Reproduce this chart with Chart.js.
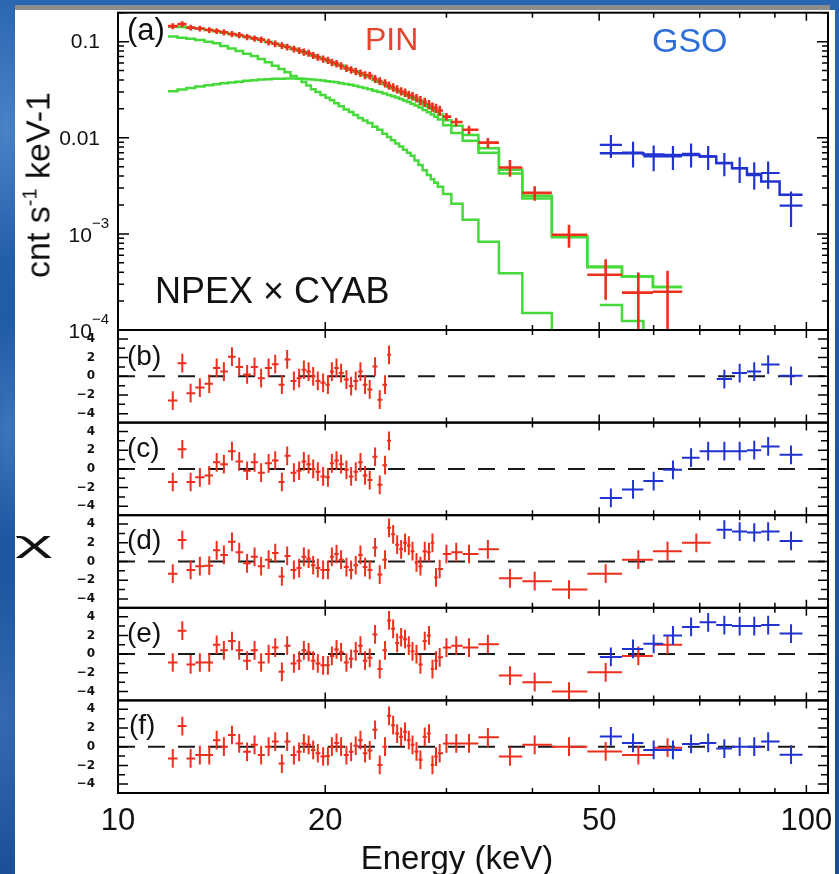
<!DOCTYPE html>
<html>
<head>
<meta charset="utf-8">
<title>PIN / GSO spectrum and residuals</title>
<script src="https://cdn.jsdelivr.net/npm/chart.js@4.4.1/dist/chart.umd.min.js"></script>
<style>
  html, body { margin: 0; padding: 0; }
  body {
    width: 839px; height: 874px; position: relative; overflow: hidden;
    font-family: "Liberation Sans", Arial, sans-serif;
    background:
      radial-gradient(ellipse 40px 130px at 6px 130px, rgba(120,170,230,.45), transparent),
      radial-gradient(ellipse 35px 110px at 8px 430px, rgba(110,160,225,.4), transparent),
      radial-gradient(ellipse 40px 150px at 4px 720px, rgba(100,150,220,.35), transparent),
      linear-gradient(180deg, #2b67b1 0%, #1f59a3 45%, #1b5097 100%);
  }
  #strip { position: absolute; left: 15px; top: 5px; width: 815px; height: 5px; background: #8d8d8d; }
  #sheet { position: absolute; left: 15px; top: 10px; width: 820px; height: 864px; background: #fff; }
  #plots canvas { position: absolute; left: 0; }
  .txt { position: absolute; white-space: nowrap; line-height: 1; z-index: 5; color: #111; }
</style>
</head>
<body>
<div id="strip"></div>
<div id="sheet"></div>
<div id="plots"></div>

<div class="txt" style="left:127px;top:14px;font-size:31px">(a)</div>
<div class="txt" style="left:127px;top:342px;font-size:28px">(b)</div>
<div class="txt" style="left:127px;top:434px;font-size:28px">(c)</div>
<div class="txt" style="left:127px;top:526px;font-size:28px">(d)</div>
<div class="txt" style="left:127px;top:619px;font-size:28px">(e)</div>
<div class="txt" style="left:129px;top:711px;font-size:28px">(f)</div>
<div class="txt" style="left:365px;top:23px;font-size:32px;color:#e5452d">PIN</div>
<div class="txt" style="left:652px;top:23px;font-size:34px;color:#2f6fd8">GSO</div>
<div class="txt" style="left:155px;top:273px;font-size:36px">NPEX × CYAB</div>
<div class="txt" style="left:457px;top:841px;font-size:33px;transform:translateX(-50%)">Energy (keV)</div>
<div class="txt" style="left:37px;top:185px;font-size:34px;transform:translate(-50%,-50%) rotate(-90deg)">cnt s<sup style="font-size:20px;vertical-align:13px">-1</sup> keV-1</div>
<div class="txt" style="left:15px;top:527px;font-size:30px;transform:scaleX(2.4);transform-origin:left top">χ</div>

<script>
// ---------- axes ----------
const xMin = 10, xMax = 107.5;
const xTickVals = [20, 30, 40, 50, 60, 70, 80, 90, 100];
const xMajorVals = [20, 50, 100];
const xLabelVals = [10, 20, 50, 100];
const specMin = 1e-4, specMax = 0.2;
const resMin = -4.95, resMax = 4.95;
const resTickVals = [-4, -3, -2, -1, 0, 1, 2, 3, 4];
const resLabelVals = [-4, -2, 0, 2, 4];
const specLabels = [
  { v: 0.1, t: "0.1" }, { v: 0.01, t: "0.01" },
  { v: 1e-3, exp: "−3" }, { v: 1e-4, exp: "−4" }
];

// ---------- energy bins (keV) ----------
const pinDenseE = [12.01, 12.40, 12.75, 13.15, 13.57, 13.91, 14.25, 14.64, 15.00, 15.40,
  15.79, 16.14, 16.55, 16.92, 17.30, 17.61, 18.01, 18.33, 18.62, 18.92,
  19.21, 19.51, 19.86, 20.18, 20.45, 20.77, 21.09, 21.47, 21.81, 22.15,
  22.50, 22.85, 23.21, 23.63, 24.00, 24.43, 24.76];
const pinHiE = [25.10, 25.44, 25.78, 26.12, 26.45, 26.78, 27.14, 27.50, 27.90, 28.30,
  28.63, 28.97, 29.33, 30.00, 31.00, 32.35, 34.46];
const pinWideE = [37.1, 40.3, 45.2, 51.1, 57.0, 62.85, 69.2];
const gsoE = [52, 56, 60, 64, 68, 72, 76, 80, 84, 88, 95];

// ---------- panel (a): counts spectrum ----------
const pinSpec = [0.145, 0.152, 0.140, 0.137, 0.132, 0.129, 0.125, 0.120, 0.117, 0.112,
  0.108, 0.105, 0.099, 0.095, 0.091, 0.088, 0.084, 0.081, 0.078, 0.076,
  0.072, 0.069, 0.066, 0.064, 0.061, 0.059, 0.056, 0.053, 0.051, 0.049,
  0.047, 0.045, 0.0445, 0.041, 0.039, 0.037, 0.035,
  0.0335, 0.032, 0.0305, 0.0295, 0.028, 0.0272, 0.026, 0.0245, 0.0235, 0.0222,
  0.021, 0.0203, 0.0192, 0.0166, 0.0146, 0.0121, 0.0089,
  0.0049, 0.00267, 0.00098, 0.000376, 0.000245, 0.00025];
const pinErr = [0.07, 0.07, 0.07, 0.07, 0.07, 0.07, 0.075, 0.075, 0.075, 0.075,
  0.075, 0.08, 0.08, 0.08, 0.08, 0.08, 0.08, 0.08, 0.085, 0.085,
  0.085, 0.085, 0.085, 0.085, 0.09, 0.09, 0.09, 0.09, 0.09, 0.09,
  0.09, 0.095, 0.095, 0.095, 0.095, 0.1, 0.1,
  0.1, 0.1, 0.1, 0.1, 0.1, 0.1, 0.1, 0.11, 0.11, 0.11,
  0.11, 0.11, 0.12, 0.09, 0.1, 0.1, 0.12,
  0.2, 0.17, 0.27, 0.45, 0.62, 0.65];
const pinModel = [0.143, 0.142, 0.139, 0.136, 0.132, 0.128, 0.124, 0.120, 0.116, 0.112,
  0.108, 0.104, 0.099, 0.095, 0.091, 0.088, 0.084, 0.081, 0.078, 0.075,
  0.072, 0.069, 0.066, 0.063, 0.061, 0.058, 0.056, 0.053, 0.051, 0.049,
  0.047, 0.045, 0.043, 0.040, 0.038, 0.036, 0.034,
  0.0325, 0.031, 0.0298, 0.0285, 0.0272, 0.026, 0.0248, 0.0235, 0.0222, 0.021,
  0.020, 0.0188, 0.0175, 0.0152, 0.0133, 0.0107, 0.0078,
  0.00464, 0.00249, 0.00095, 0.000458, 0.00036, 0.00028];
const pinSteep = [0.113, 0.110, 0.107, 0.104, 0.100, 0.096, 0.090, 0.085, 0.080, 0.075,
  0.071, 0.066, 0.061, 0.056, 0.052, 0.048, 0.044, 0.041, 0.038, 0.035,
  0.032, 0.030, 0.0278, 0.026, 0.0245, 0.0228, 0.0213, 0.0197, 0.0185, 0.0173,
  0.0161, 0.0151, 0.0142, 0.013, 0.0121, 0.011, 0.0102,
  0.0094, 0.0087, 0.0081, 0.0075, 0.0070, 0.0065, 0.0058, 0.0052, 0.0046, 0.0041,
  0.0037, 0.0034, 0.0031, 0.0026, 0.00206, 0.0014, 0.00083,
  0.00039, 0.00015, 0.00003, 0.00001, 0.000005, 0.000003];
const pinHump = [0.0305, 0.0318, 0.033, 0.0342, 0.0352, 0.036, 0.0368, 0.0376, 0.0383, 0.0391,
  0.0397, 0.0403, 0.0407, 0.041, 0.0412, 0.0413, 0.0413, 0.0412, 0.041, 0.0407,
  0.0403, 0.0398, 0.0393, 0.0388, 0.0383, 0.0377, 0.037, 0.0362, 0.0355, 0.0347,
  0.0338, 0.0329, 0.032, 0.0309, 0.030, 0.0289, 0.0278,
  0.027, 0.0262, 0.0253, 0.0244, 0.0235, 0.0226, 0.0216, 0.0206, 0.0195, 0.0184,
  0.0175, 0.0165, 0.0155, 0.0135, 0.0112, 0.0093, 0.0070,
  0.00425, 0.00234, 0.00092, 0.00045, 0.00036, 0.00028];
const gsoSpec = [0.00843, 0.0070, 0.0064, 0.0064, 0.0068, 0.0064, 0.00545, 0.00483, 0.00422, 0.0043, 0.00197];
const gsoErr = [0.27, 0.3, 0.3, 0.28, 0.28, 0.28, 0.27, 0.3, 0.32, 0.32, 0.4];
const gsoModel = [0.0069, 0.0069, 0.0067, 0.0066, 0.0066, 0.0064, 0.00545, 0.00483, 0.0041, 0.0035, 0.00255];
const gsoSteep = [0.000182, 0.000124, 0.00007, 0.00004];

// ---------- panels (b)-(f): residuals in sigma ----------
const resB_pin = [-2.6, 1.4, -1.8, -1.2, -0.8, 0.9, 0.5, 2.1, 1.0, 0.2, 1.0, -0.2, 0.9, 1.3, -0.9, 1.8, -0.5, -0.2, 0.7,
  0.5, 0.0, -0.5, -0.7, -0.9, 0.5, 0.9, 0.35, -0.35, -1.05, -0.5, 0.5, -0.9, -1.4, 1.05, -2.5, -0.9, 2.3];
const resC_pin = [-1.4, 2.1, -1.4, -0.9, -0.7, 0.7, 0.5, 1.9, 0.8, -0.2, 0.7, -0.4, 0.6, 0.9, -1.4, 1.4, -0.4, -0.2, 0.8,
  0.5, 0.0, -0.3, -0.8, -0.9, 0.6, 0.9, 0.5, -0.1, -0.8, -0.3, 0.7, -0.7, -1.2, 1.3, -1.7, 0.4, 3.0];
const resD_pinLo = [-1.3, 2.3, -0.9, -0.5, -0.45, 1.2, 0.7, 2.1, 1.0, -0.2, 0.5, -0.5, 0.2, 0.9, -1.6, 0.6, -0.9, -0.7, 0.5,
  0.3, -0.4, -0.7, -0.9, -0.9, 0.5, 0.8, 0.2, -0.6, -0.9, -0.4, 0.7, -0.6, -0.9, 1.5, -1.4, 0.2, 3.6];
const resD_pinHi = [2.9, 1.8, 1.3, 2.0, 1.7, 1.1, -0.1, -0.5, 1.1, 1.0, 2.0, -1.7, -0.8, 0.8, 1.0, 0.8, 1.3];
const resD_pinWide = [-1.8, -2.1, -3.0, -1.3, 0.2, 1.1, 2.0];
const resE_pinLo = [-0.9, 2.5, -1.1, -0.9, -0.9, 1.0, 0.4, 1.4, 0.4, -0.7, 0.4, -0.9, 0.0, 0.7, -1.9, 0.9, -1.0, -0.7, 0.4,
  0.2, -0.7, -1.0, -1.2, -1.2, -0.2, 0.5, 0.2, -0.9, -0.5, 0.3, 0.9, -0.7, -0.4, 2.1, -1.6, 0.4, 3.6];
const resE_pinHi = [2.7, 1.2, 1.8, 1.6, 0.9, 0.3, 0.0, -1.1, 1.4, 2.0, -1.6, -0.7, -0.35, 0.7, 0.9, 0.7, 1.06];
const resE_pinWide = [-2.3, -3.0, -4.0, -1.95, -0.2, 1.0];
const resF_pinLo = [-1.25, 2.2, -1.25, -0.9, -0.9, 0.7, 0.0, 1.25, 0.35, -0.55, 0.2, -0.9, 0.0, 0.55, -1.8, 0.55, -0.9, -0.55, 0.35,
  0.2, -0.35, -0.7, -1.05, -1.0, 0.0, 0.4, 0.0, -0.9, -0.55, 0.1, 0.7, -0.7, -0.4, 1.8, -1.95, 0.0, 3.3];
const resF_pinHi = [2.3, 1.4, 1.06, 1.6, 0.7, 0.2, -0.5, -1.4, 1.06, 1.4, -1.95, -1.06, -0.7, 0.35, 0.35, 0.35, 1.0];
const resF_pinWide = [-1.05, 0.2, 0.0, -0.5, -0.9, -0.1];
const resB_gso = [-0.3, 0.35, 0.5, 1.25, 0.05];   // 76-95 keV bins only
const resC_gso = [-3.1, -2.2, -1.3, -0.1, 1.2, 1.9, 1.9, 1.9, 2.0, 2.4, 1.5];
const resD_gso = [3.4, 3.2, 3.1, 3.2, 2.2];         // 76-95 keV bins only
const resE_gso = [-0.3, 0.55, 1.1, 2.0, 2.9, 3.4, 3.1, 3.0, 3.0, 3.1, 2.2];
const resF_gso = [1.1, 0.4, -0.35, -0.35, 0.3, 0.4, -0.2, 0.0, 0.0, 0.55, -0.85];

// panel borders in page pixels
const panelEdges = [12.7, 330, 422.6, 515.2, 607.8, 700.4, 793];

const RED = "#ee2f1d", BLUE = "#2032d2", GREEN = "#45da3a";

// --- helpers ---
function binEdges(E) {
  const n = E.length, lo = [], hi = [];
  for (let i = 0; i < n; i++) {
    lo[i] = i > 0 ? Math.sqrt(E[i - 1] * E[i]) : null;
    hi[i] = i < n - 1 ? Math.sqrt(E[i] * E[i + 1]) : null;
  }
  lo[0] = E[0] * E[0] / hi[0];
  hi[n - 1] = E[n - 1] * E[n - 1] / lo[n - 1];
  return { lo, hi };
}

function crossSet(E, V, color, errs, width) {
  const { lo, hi } = binEdges(E);
  return {
    type: "scatter",
    data: E.map((e, i) => ({
      x: e, y: V[i], xlo: lo[i], xhi: hi[i],
      ylo: errs ? V[i] * (1 - errs[i]) : V[i] - 1,
      yhi: errs ? V[i] * (1 + errs[i]) : V[i] + 1,
    })),
    pointRadius: 0, showLine: false, cross: true, crossColor: color, crossWidth: width || 2,
  };
}

function stepSet(E, V, color, width) {
  const { lo, hi } = binEdges(E);
  const pts = [];
  V.forEach((v, i) => { pts.push({ x: lo[i], y: v }, { x: hi[i], y: v }); });
  return {
    type: "line", data: pts, borderColor: color, borderWidth: width,
    pointRadius: 0, tension: 0, fill: false, borderJoinStyle: "miter",
  };
}

function logTicks(min, max) {
  const out = [];
  for (let d = -4; d <= -1; d++) {
    for (let m = 1; m <= 9; m++) {
      const v = m * Math.pow(10, d);
      if (v >= min * 0.999 && v <= max) out.push({ v, major: m === 1 });
    }
  }
  return out;
}

// --- frame, ticks, labels, error crosses ---
const framePlugin = {
  id: "frame",
  beforeDatasetsDraw(chart, args, opts) {
    if (opts.kind !== "res") return;
    const { ctx, chartArea: a, scales: { y } } = chart;
    const py = y.getPixelForValue(0);
    ctx.save();
    ctx.strokeStyle = "#1a1a1a";
    ctx.lineWidth = 2;
    ctx.setLineDash([17, 13]);
    ctx.beginPath();
    ctx.moveTo(a.left, py);
    ctx.lineTo(a.right, py);
    ctx.stroke();
    ctx.restore();
  },
  afterDatasetsDraw(chart, args, opts) {
    const { ctx, chartArea: a, scales: { x, y } } = chart;

    // error crosses
    ctx.save();
    ctx.beginPath();
    ctx.rect(a.left, a.top, a.right - a.left, a.bottom - a.top);
    ctx.clip();
    chart.data.datasets.forEach((ds) => {
      if (!ds.cross) return;
      ctx.strokeStyle = ds.crossColor;
      ctx.lineWidth = ds.crossWidth;
      ctx.beginPath();
      ds.data.forEach((p) => {
        const px = x.getPixelForValue(p.x), py = y.getPixelForValue(p.y);
        ctx.moveTo(x.getPixelForValue(p.xlo), py);
        ctx.lineTo(x.getPixelForValue(p.xhi), py);
        ctx.moveTo(px, y.getPixelForValue(p.ylo));
        ctx.lineTo(px, y.getPixelForValue(p.yhi));
      });
      ctx.stroke();
    });
    ctx.restore();

    // box and inward ticks
    ctx.save();
    ctx.strokeStyle = "#000";
    ctx.lineWidth = 2;
    ctx.strokeRect(a.left, a.top, a.right - a.left, a.bottom - a.top);
    ctx.lineWidth = 1.5;
    ctx.beginPath();
    xTickVals.forEach((v) => {
      const px = x.getPixelForValue(v), len = xMajorVals.includes(v) ? 8 : 5;
      ctx.moveTo(px, a.top); ctx.lineTo(px, a.top + len);
      ctx.moveTo(px, a.bottom); ctx.lineTo(px, a.bottom - len);
    });
    const yt = opts.kind === "log"
      ? logTicks(specMin, specMax)
      : resTickVals.map((v) => ({ v, major: v % 2 === 0 }));
    yt.forEach((t) => {
      const py = y.getPixelForValue(t.v);
      const len = opts.kind === "log" ? (t.major ? 11 : 6) : (t.major ? 10 : 7);
      ctx.moveTo(a.left, py); ctx.lineTo(a.left + len, py);
      ctx.moveTo(a.right, py); ctx.lineTo(a.right - len, py);
    });
    ctx.stroke();

    // y labels
    ctx.fillStyle = "#111";
    ctx.textAlign = "right";
    ctx.textBaseline = "middle";
    if (opts.kind === "log") {
      specLabels.forEach((l) => {
        const py = y.getPixelForValue(l.v);
        if (l.t) {
          ctx.font = '21px "Liberation Sans", Arial, sans-serif';
          ctx.fillText(l.t, a.left - 18, py + 1);
        } else {
          ctx.font = '15px "Liberation Sans", Arial, sans-serif';
          const w = ctx.measureText(l.exp).width;
          ctx.fillText(l.exp, a.left - 9, py - 10);
          ctx.font = '21px "Liberation Sans", Arial, sans-serif';
          ctx.fillText("10", a.left - 9 - w, py + 2);
        }
      });
    } else {
      ctx.font = 'bold 12px "DejaVu Sans", sans-serif';
      resLabelVals.forEach((v) => {
        const s = v < 0 ? "−" + Math.abs(v) : String(v);
        ctx.fillText(s, a.left - 23, y.getPixelForValue(v));
      });
    }

    // x labels under the last panel
    if (opts.xLabels) {
      ctx.textAlign = "center";
      ctx.textBaseline = "alphabetic";
      ctx.font = '31px "Liberation Sans", Arial, sans-serif';
      xLabelVals.forEach((v) => ctx.fillText(String(v), x.getPixelForValue(v), a.bottom + 37));
    }
    ctx.restore();
  },
};

const plots = document.getElementById("plots");

function addPanel(idx, yScale, datasets, kind) {
  const isLast = idx === panelEdges.length - 2;
  const top = panelEdges[idx], bottom = panelEdges[idx + 1];
  const cTop = Math.floor(top) - 12;
  const cH = isLast ? 874 - cTop : Math.ceil(bottom) + 14 - cTop;
  const cv = document.createElement("canvas");
  cv.width = 839;
  cv.height = cH;
  cv.style.top = cTop + "px";
  cv.style.width = "839px";
  cv.style.height = cH + "px";
  plots.appendChild(cv);
  return new Chart(cv.getContext("2d"), {
    type: "scatter",
    data: { datasets },
    options: {
      responsive: false,
      animation: false,
      events: [],
      layout: { padding: { left: 118, right: 11, top: top - cTop, bottom: cH - (bottom - cTop) } },
      plugins: {
        legend: { display: false },
        tooltip: { enabled: false },
        frame: { kind, xLabels: isLast },
      },
      scales: {
        x: { type: "logarithmic", min: xMin, max: xMax, bounds: "data", display: false },
        y: Object.assign({ display: false, bounds: "data" }, yScale),
      },
    },
    plugins: [framePlugin],
  });
}

const pinSpecE = pinDenseE.concat(pinHiE, pinWideE.slice(0, 6));
const gsoEdges = binEdges(gsoE);

// (a)
addPanel(0, { type: "logarithmic", min: specMin, max: specMax }, [
  stepSet(gsoE, gsoModel, BLUE, 2.5),
  stepSet(pinSpecE, pinModel, GREEN, 2.5),
  stepSet(pinSpecE, pinSteep, GREEN, 2.5),
  stepSet(pinSpecE, pinHump, GREEN, 2.5),
  (function () {
    const pts = [];
    gsoSteep.forEach((v, i) => { pts.push({ x: gsoEdges.lo[i], y: v }, { x: gsoEdges.hi[i], y: v }); });
    return { type: "line", data: pts, borderColor: GREEN, borderWidth: 2.5, pointRadius: 0, tension: 0 };
  })(),
  crossSet(pinSpecE, pinSpec, RED, pinErr, 2.6),
  crossSet(gsoE, gsoSpec, BLUE, gsoErr, 2.2),
], "log");

const resY = { type: "linear", min: resMin, max: resMax };
const gsoHigh = gsoE.slice(6);

// (b)
addPanel(1, resY, [
  crossSet(pinDenseE, resB_pin, RED),
  crossSet(gsoHigh, resB_gso, BLUE),
], "res");
// (c)
addPanel(2, resY, [
  crossSet(pinDenseE, resC_pin, RED),
  crossSet(gsoE, resC_gso, BLUE),
], "res");
// (d)
addPanel(3, resY, [
  crossSet(pinDenseE.concat(pinHiE, pinWideE), resD_pinLo.concat(resD_pinHi, resD_pinWide), RED),
  crossSet(gsoHigh, resD_gso, BLUE),
], "res");
// (e)
addPanel(4, resY, [
  crossSet(pinSpecE, resE_pinLo.concat(resE_pinHi, resE_pinWide), RED),
  crossSet(gsoE, resE_gso, BLUE),
], "res");
// (f)
addPanel(5, resY, [
  crossSet(pinSpecE, resF_pinLo.concat(resF_pinHi, resF_pinWide), RED),
  crossSet(gsoE, resF_gso, BLUE),
], "res");
</script>
</body>
</html>
